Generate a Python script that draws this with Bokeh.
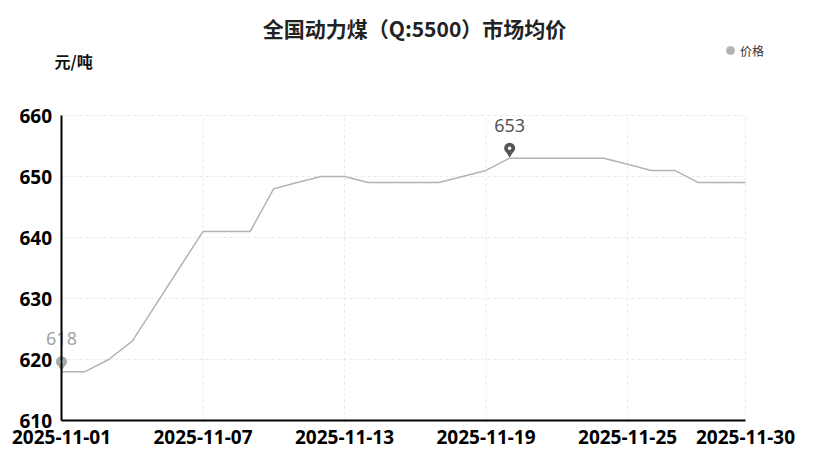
from bokeh.plotting import figure
from bokeh.models import Range1d, FixedTicker, Legend, LegendItem, ColumnDataSource
from bokeh.core.properties import value
from bokeh.embed import file_html
from bokeh.resources import INLINE

# ---- data ----
dates = ["2025-11-%02d" % d for d in range(1, 31)]
prices = [618, 618, 620, 623, 629, 635, 641, 641, 641, 648,
          649, 650, 650, 649, 649, 649, 649, 650, 651, 653,
          653, 653, 653, 653, 652, 651, 651, 649, 649, 649]
x_tick_idx = [0, 6, 12, 18, 24, 29]
y_ticks = [610, 620, 630, 640, 650, 660]
title_text = "全国动力煤（Q:5500）市场均价"
unit_text = "元/吨"
series_name = "价格"

# ---- layout (pixels) ----
W, H = 828, 466
MB_RIGHT = 12
MB_TOP = 10
AX_L, AX_R = 61, 745    # pixel x of first / last date
AX_T, AX_B = 115, 420   # pixel y of top / bottom y tick
n = len(prices)
y0, y1 = y_ticks[0], y_ticks[-1]
ppx = (AX_R - AX_L) / (n - 1)
ppy = (AX_B - AX_T) / (y1 - y0)


def px2x(px):
    return (px - AX_L) / ppx


def py2y(py):
    return y0 + (AX_B - py) / ppy


p = figure(width=W, height=H, y_axis_location="right", x_axis_location="above",
           x_range=Range1d(px2x(0), px2x(W - MB_RIGHT)), y_range=Range1d(py2y(H), py2y(MB_TOP)),
           min_border_left=0, min_border_right=MB_RIGHT, min_border_top=MB_TOP, min_border_bottom=0,
           output_backend="svg", toolbar_location=None)
p.outline_line_color = None
p.background_fill_color = "white"
p.xgrid.visible = False
p.ygrid.visible = False

FONT = "Noto Sans"
CJK = "Noto Sans CJK SC"

# axes (drawn at the data origin; labels moved to the usual sides)
p.xaxis.ticker = FixedTicker(ticks=x_tick_idx)
p.xaxis.major_label_overrides = {i: dates[i] for i in x_tick_idx}
p.xaxis.bounds = (0, n - 1)
p.xaxis.fixed_location = y0
p.yaxis.ticker = FixedTicker(ticks=y_ticks)
p.yaxis.bounds = (y0, y1)
p.yaxis.fixed_location = 0
for ax in (p.xaxis[0], p.yaxis[0]):
    ax.axis_line_color = "black"
    ax.axis_line_width = 2
    ax.major_tick_in = 0
    ax.major_tick_out = 0
    ax.minor_tick_in = 0
    ax.minor_tick_out = 0
    ax.major_label_text_font = FONT
    ax.major_label_text_font_style = "bold"
    ax.major_label_text_font_size = "19px"
    ax.major_label_text_color = "black"
p.xaxis.major_label_standoff = -23
p.yaxis.major_label_standoff = -42

# grid lines (dashed, faint) at tick positions
p.segment(x0=[0] * len(y_ticks), x1=[n - 1] * len(y_ticks), y0=y_ticks, y1=y_ticks,
          line_color="#e8e8e8", line_dash="3 3", line_width=1)
p.segment(x0=x_tick_idx, x1=x_tick_idx, y0=[y0] * len(x_tick_idx), y1=[y1] * len(x_tick_idx),
          line_color="#e8e8e8", line_dash="3 3", line_width=1)

# line
src = ColumnDataSource(dict(x=list(range(n)), y=prices))
p.line("x", "y", source=src, line_color="#b3b3b3", line_width=1.5)
leg_r = p.scatter("x", "y", source=src, size=0, fill_color="#b3b3b3", line_color="#b3b3b3")

# min/max pins
imin = prices.index(min(prices))
imax = prices.index(max(prices))
for idx, col, tcol in ((imin, "#a8a8a8", "#a3a3a3"), (imax, "#555555", "#555555")):
    v = prices[idx]
    p.scatter([idx], [v + 5 / ppy], marker="inverted_triangle", size=8, fill_color=col, line_color=None)
    p.scatter([idx], [v + 10 / ppy], marker="circle", size=11, fill_color=col, line_color=None)
    p.scatter([idx], [v + 10 / ppy], marker="circle", size=3.5, fill_color="white", line_color=None)
    p.text([idx], [v], text=[str(v)], text_align="center", text_baseline="middle", y_offset=-33,
           text_font=value(FONT), text_font_size="18px", text_color=tcol)

# title and unit
p.text([px2x(414)], [py2y(27)], text=[title_text], text_align="center", text_baseline="middle",
       text_font=value(CJK), text_font_style="bold", text_font_size="21px", text_color="#222222")
p.text([px2x(54)], [py2y(60)], text=[unit_text], text_align="left", text_baseline="middle",
       text_font=value(CJK), text_font_style="bold", text_font_size="16px", text_color="#111111")

# legend
legend = Legend(items=[LegendItem(label=series_name, renderers=[leg_r])],
                location=(720, H - 60), orientation="horizontal",
                glyph_width=20, glyph_height=20, label_text_font=CJK, label_text_font_size="12px",
                label_text_color="#333333", padding=0, margin=0, border_line_color=None,
                background_fill_alpha=0, label_standoff=0, label_height=20)
p.add_layout(legend, "center")

open("out.html", "w").write(file_html(p, INLINE))
